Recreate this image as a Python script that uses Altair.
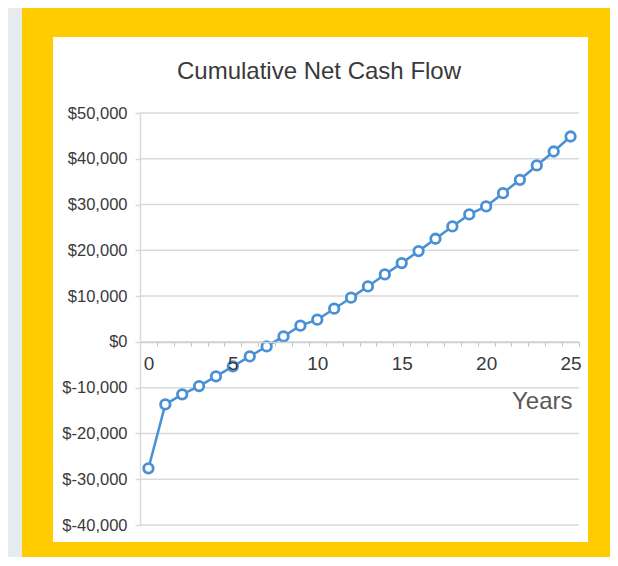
import altair as alt
import pandas as pd

# ---- data ----
years = list(range(26))
cum_net_cash = [-27620, -13650, -11460, -9650, -7530, -5350, -3170, -980, 1200,
                3540, 4850, 7250, 9650, 12120, 14740, 17210, 19830, 22530,
                25220, 27840, 29590, 32490, 35410, 38540, 41590, 44870]
y_tick_values = [-40000, -30000, -20000, -10000, 0, 10000, 20000, 30000, 40000, 50000]
title_text = "Cumulative Net Cash Flow"
x_title = "Years"

df = pd.DataFrame({"year": years, "value": cum_net_cash})
grid_df = pd.DataFrame({"value": y_tick_values})

W, H = 439, 412
Y_MIN, Y_MAX = -40000, 50000
FONT = "Liberation Sans, Arial, sans-serif"
BLUE = "#4a90d4"

x_scale = alt.Scale(type="band", paddingInner=0, paddingOuter=0, domain=years)
y_scale = alt.Scale(domain=[Y_MIN, Y_MAX], nice=False, zero=False)

y_axis = alt.Axis(
    values=y_tick_values,
    labelExpr="datum.value < 0 ? '$-' + format(-datum.value, ',') : '$' + format(datum.value, ',')",
    title=None, grid=False, domainColor="#d9d9d9", domainWidth=1.5,
    tickColor="#d9d9d9", tickWidth=1.5, tickSize=5, labelPadding=8,
    labelFontSize=16.5, labelColor="#3a3a3a", labelFont=FONT,
    labelOverlap=False, labelFlush=False, zindex=1,
)

x_axis = alt.Axis(
    orient="bottom", offset=-H * (0 - Y_MIN) / (Y_MAX - Y_MIN),
    title=x_title, titleX=432, titleY=67, titleAlign="right",
    titleBaseline="alphabetic", titleFontSize=24, titleFontWeight="normal",
    titleColor="#595959", titleFont=FONT,
    labelExpr="datum.value % 5 === 0 ? datum.label : ''", labelAngle=0,
    labelFontSize=19, labelPadding=9, labelColor="#3a3a3a", labelFont=FONT,
    labelOverlap=False, tickBand="extent", tickSize=4, tickColor="#bfbfbf",
    domainColor="#d0d0d0", domainWidth=1.5, grid=False, zindex=1,
)

one = alt.Data(values=[{"k": 1}])

frame = alt.Chart(one).mark_rect(color="#ffcc00").encode(
    x=alt.value(-118), x2=alt.value(475), y=alt.value(-106), y2=alt.value(470))
panel = alt.Chart(one).mark_rect(color="#ffffff").encode(
    x=alt.value(-87), x2=alt.value(448), y=alt.value(-76), y2=alt.value(429))

grid = alt.Chart(grid_df).mark_rule(color="#d9d9d9", strokeWidth=1.5).encode(
    y=alt.Y("value:Q", scale=y_scale, axis=y_axis))

x_enc = alt.X("year:O", scale=x_scale, axis=x_axis)
y_enc = alt.Y("value:Q", scale=y_scale, axis=y_axis)

line = alt.Chart(df).mark_line(color=BLUE, strokeWidth=2.5).encode(x=x_enc, y=y_enc)
points = alt.Chart(df).mark_point(shape="circle", filled=True, fill="white",
                                  stroke=BLUE, strokeWidth=2.8, size=90,
                                  opacity=1).encode(x=x_enc, y=y_enc)

title = alt.Chart(one).mark_text(text=title_text, font=FONT, fontSize=24,
                                 color="#3a3a3a", align="center",
                                 baseline="alphabetic").encode(
    x=alt.value(179), y=alt.value(-34))

chart = alt.layer(frame, panel, grid, line, points, title).properties(
    width=W, height=H,
    autosize=alt.AutoSizeParams(type="none"),
    padding={"left": 132, "top": 105, "right": 31, "bottom": 32},
    background="#e6ebee",
).configure_view(stroke=None)

chart.save("out.html", embed_options={"renderer": "svg", "actions": False})
